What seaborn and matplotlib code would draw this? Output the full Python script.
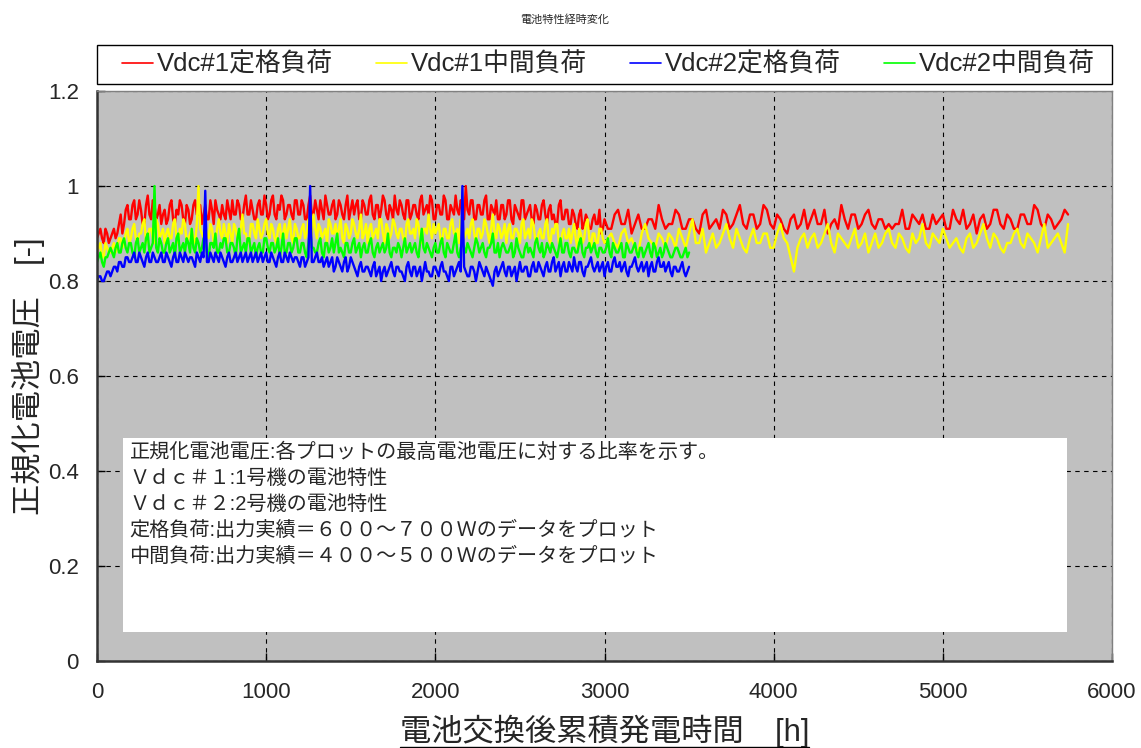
import numpy as np
import matplotlib
matplotlib.use("Agg")
import matplotlib.pyplot as plt
import seaborn as sns
from matplotlib.ticker import FuncFormatter
from matplotlib.patches import Rectangle
from matplotlib.lines import Line2D

# ---- sample times [h] ----
# main samples
hours_unit1 = np.concatenate([np.arange(0, 3000, 20),               # 150
                              np.append(np.arange(3000, 5721, 40), 5740)])  # 70
hours_unit2 = np.arange(0, 3501, 20)                                  # 176
# intermediate samples
hours_unit1_b = np.concatenate([np.arange(10, 3000, 20),             # 150
                                np.arange(3020, 5701, 40)])          # 68
hours_unit2_b = np.arange(10, 3500, 20)                              # 175

# ---- normalised cell voltage, unit 1, rated load (600-700 W) ----
vdc1_rated = [
    0.89, 0.91, 0.88, 0.90, 0.89, 0.91, 0.90, 0.94, 0.92, 0.96,
    0.93, 0.97, 0.94, 0.95, 0.92, 0.98, 0.93, 0.96, 0.94, 0.92,
    0.95, 0.93, 0.97, 0.92, 0.94, 0.96, 0.92, 0.95, 0.93, 0.97,
    0.94, 0.92, 0.96, 0.93, 0.95, 0.97, 0.94, 0.96, 0.93, 0.95,
    0.97, 0.94, 0.96, 0.93, 0.98, 0.94, 0.95, 0.93, 0.97, 0.94,
    0.96, 0.94, 0.98, 0.93, 0.95, 0.97, 0.94, 0.96, 0.93, 0.97,
    0.94, 0.96, 0.93, 0.98, 0.94, 0.95, 0.97, 0.93, 0.96, 0.94,
    0.97, 0.94, 0.96, 0.93, 0.98, 0.95, 0.94, 0.97, 0.93, 0.96,
    0.94, 0.98, 0.93, 0.96, 0.95, 0.97, 0.93, 0.95, 0.98, 0.94,
    0.96, 0.93, 0.97, 0.94, 0.96, 0.93, 0.98, 0.95, 0.94, 0.97,
    0.93, 0.96, 0.94, 0.97, 0.93, 0.95, 0.98, 0.94, 0.96, 1.00,
    0.94, 0.97, 0.93, 0.96, 0.94, 0.98, 0.93, 0.95, 0.97, 0.93,
    0.96, 0.94, 0.97, 0.92, 0.95, 0.93, 0.97, 0.94, 0.96, 0.92,
    0.95, 0.93, 0.97, 0.92, 0.96, 0.94, 0.92, 0.97, 0.93, 0.95,
    0.92, 0.94, 0.91, 0.95, 0.92, 0.93, 0.91, 0.94, 0.92, 0.90,
    0.93, 0.91, 0.95, 0.92, 0.90, 0.94, 0.91, 0.93, 0.96, 0.91,
    0.92, 0.94, 0.91, 0.93, 0.90, 0.95, 0.92, 0.91, 0.94, 0.92,
    0.96, 0.91, 0.94, 0.92, 0.95, 0.91, 0.93, 0.90, 0.94, 0.92,
    0.91, 0.95, 0.92, 0.90, 0.93, 0.96, 0.91, 0.94, 0.92, 0.95,
    0.91, 0.93, 0.92, 0.92, 0.95, 0.91, 0.93, 0.94, 0.91, 0.92,
    0.94, 0.91, 0.93, 0.95, 0.92, 0.90, 0.94, 0.92, 0.95, 0.91,
    0.93, 0.91, 0.94, 0.92, 0.95, 0.91, 0.93, 0.92, 0.95, 0.94,
]
vdc1_rated_b = [
    0.90, 0.89, 0.91, 0.88, 0.90, 0.89, 0.92, 0.90, 0.95, 0.93,
    0.96, 0.93, 0.97, 0.92, 0.96, 0.94, 0.97, 0.93, 0.96, 0.94,
    0.92, 0.96, 0.93, 0.95, 0.97, 0.93, 0.96, 0.92, 0.96, 0.94,
    0.96, 0.94, 0.93, 0.97, 0.92, 0.95, 0.93, 0.94, 0.97, 0.93,
    0.94, 0.97, 0.93, 0.96, 0.94, 0.97, 0.93, 0.96, 0.94, 0.98,
    0.93, 0.97, 0.94, 0.96, 0.98, 0.93, 0.96, 0.94, 0.97, 0.94,
    0.97, 0.93, 0.96, 0.94, 0.97, 0.93, 0.95, 0.98, 0.94, 0.96,
    0.93, 0.97, 0.94, 0.96, 0.93, 0.97, 0.96, 0.93, 0.97, 0.94,
    0.97, 0.94, 0.96, 0.93, 0.98, 0.94, 0.96, 0.93, 0.95, 0.97,
    0.94, 0.97, 0.93, 0.96, 0.94, 0.97, 0.94, 0.96, 0.98, 0.93,
    0.96, 0.94, 0.98, 0.93, 0.96, 0.94, 0.95, 0.97, 0.93, 0.95,
    0.97, 0.93, 0.96, 0.94, 0.97, 0.93, 0.96, 0.94, 0.93, 0.96,
    0.93, 0.97, 0.93, 0.96, 0.94, 0.97, 0.93, 0.95, 0.93, 0.96,
    0.93, 0.96, 0.94, 0.95, 0.93, 0.92, 0.96, 0.93, 0.95, 0.92,
    0.95, 0.92, 0.94, 0.91, 0.94, 0.91, 0.93, 0.92, 0.95, 0.91,
    0.91, 0.94, 0.92, 0.95, 0.92, 0.91, 0.93, 0.91, 0.93, 0.92,
    0.95, 0.91, 0.93, 0.91, 0.94, 0.91, 0.93, 0.95, 0.91, 0.94,
    0.92, 0.94, 0.91, 0.96, 0.92, 0.94, 0.91, 0.93, 0.91, 0.95,
    0.93, 0.92, 0.95, 0.92, 0.91, 0.93, 0.94, 0.91, 0.94, 0.92,
    0.93, 0.91, 0.91, 0.92, 0.91, 0.94, 0.92, 0.91, 0.94, 0.93,
    0.91, 0.95, 0.92, 0.91, 0.94, 0.93, 0.91, 0.95, 0.92, 0.94,
    0.91, 0.94, 0.92, 0.96, 0.92, 0.94, 0.91, 0.93,
]

# ---- unit 1, intermediate load (400-500 W) ----
vdc1_mid = [
    0.86, 0.88, 0.85, 0.87, 0.86, 0.88, 0.87, 0.89, 0.88, 0.91,
    0.89, 0.92, 0.88, 0.90, 0.93, 0.89, 0.91, 0.88, 0.92, 0.90,
    0.88, 0.91, 0.89, 0.93, 0.88, 0.90, 0.92, 0.89, 0.91, 0.88,
    1.00, 0.90, 0.92, 0.89, 0.91, 0.88, 0.93, 0.89, 0.90, 0.92,
    0.88, 0.91, 0.89, 0.94, 0.90, 0.88, 0.92, 0.89, 0.91, 0.90,
    0.93, 0.89, 0.91, 0.88, 0.92, 0.90, 0.89, 0.93, 0.88, 0.91,
    0.89, 0.92, 0.90, 0.88, 0.94, 0.89, 0.91, 0.90, 0.88, 0.92,
    0.90, 0.89, 0.93, 0.88, 0.91, 0.90, 0.92, 0.89, 0.94, 0.90,
    0.88, 0.92, 0.90, 0.89, 0.93, 0.88, 0.91, 0.90, 0.92, 0.89,
    0.91, 0.88, 0.93, 0.90, 0.89, 0.92, 0.88, 0.91, 0.94, 0.89,
    0.90, 0.92, 0.88, 0.91, 0.89, 0.93, 0.90, 0.88, 0.92, 0.90,
    0.89, 0.93, 0.88, 0.91, 0.90, 0.92, 0.88, 0.94, 0.89, 0.91,
    0.90, 0.88, 0.92, 0.89, 0.91, 0.88, 0.93, 0.90, 0.89, 0.92,
    0.88, 0.91, 0.89, 0.93, 0.88, 0.90, 0.92, 0.87, 0.91, 0.89,
    0.88, 0.92, 0.87, 0.90, 0.89, 0.93, 0.87, 0.90, 0.88, 0.91,
    0.88, 0.90, 0.87, 0.91, 0.89, 0.86, 0.92, 0.88, 0.90, 0.87,
    0.89, 0.91, 0.87, 0.93, 0.88, 0.86, 0.90, 0.88, 0.92, 0.87,
    0.89, 0.86, 0.91, 0.88, 0.90, 0.87, 0.92, 0.88, 0.82, 0.89,
    0.87, 0.90, 0.88, 0.92, 0.86, 0.89, 0.87, 0.91, 0.88, 0.86,
    0.90, 0.88, 0.91, 0.87, 0.89, 0.86, 0.88, 0.92, 0.87, 0.89,
    0.91, 0.87, 0.89, 0.86, 0.90, 0.88, 0.92, 0.87, 0.89, 0.86,
    0.88, 0.91, 0.87, 0.89, 0.86, 0.92, 0.88, 0.90, 0.86, 0.92,
]
vdc1_mid_b = [
    0.87, 0.85, 0.88, 0.86, 0.87, 0.86, 0.89, 0.87, 0.90, 0.88,
    0.91, 0.89, 0.90, 0.92, 0.88, 0.91, 0.89, 0.93, 0.89, 0.91,
    0.90, 0.89, 0.92, 0.89, 0.91, 0.93, 0.88, 0.90, 0.89, 0.92,
    0.91, 0.89, 0.90, 0.92, 0.88, 0.91, 0.90, 0.92, 0.88, 0.90,
    0.92, 0.89, 0.91, 0.90, 0.88, 0.92, 0.90, 0.93, 0.89, 0.92,
    0.90, 0.92, 0.89, 0.91, 0.89, 0.92, 0.91, 0.89, 0.92, 0.89,
    0.91, 0.89, 0.93, 0.90, 0.91, 0.92, 0.89, 0.91, 0.93, 0.90,
    0.92, 0.91, 0.89, 0.92, 0.89, 0.93, 0.90, 0.91, 0.89, 0.92,
    0.91, 0.89, 0.91, 0.93, 0.90, 0.92, 0.89, 0.93, 0.90, 0.91,
    0.89, 0.92, 0.90, 0.91, 0.93, 0.89, 0.91, 0.90, 0.91, 0.92,
    0.91, 0.89, 0.91, 0.89, 0.92, 0.90, 0.91, 0.93, 0.89, 0.91,
    0.92, 0.90, 0.91, 0.89, 0.93, 0.90, 0.91, 0.90, 0.92, 0.89,
    0.92, 0.91, 0.89, 0.91, 0.90, 0.92, 0.89, 0.91, 0.93, 0.89,
    0.90, 0.89, 0.92, 0.89, 0.91, 0.92, 0.88, 0.90, 0.89, 0.91,
    0.90, 0.89, 0.91, 0.88, 0.92, 0.89, 0.90, 0.88, 0.91, 0.89,
    0.89, 0.88, 0.90, 0.88, 0.87, 0.90, 0.89, 0.87, 0.89, 0.90,
    0.87, 0.89, 0.90, 0.88, 0.91, 0.88, 0.87, 0.90, 0.89, 0.91,
    0.87, 0.89, 0.88, 0.90, 0.87, 0.90, 0.89, 0.85, 0.87, 0.90,
    0.89, 0.87, 0.90, 0.88, 0.90, 0.88, 0.89, 0.87, 0.90, 0.88,
    0.87, 0.90, 0.88, 0.90, 0.87, 0.90, 0.89, 0.88, 0.90, 0.88,
    0.89, 0.88, 0.87, 0.89, 0.87, 0.90, 0.89, 0.90, 0.87, 0.88,
    0.90, 0.88, 0.90, 0.88, 0.89, 0.87, 0.89, 0.88,
]

# ---- unit 2, rated load ----
vdc2_rated = [
    0.80, 0.81, 0.80, 0.82, 0.81, 0.83, 0.82, 0.84, 0.83, 0.85,
    0.84, 0.86, 0.84, 0.85, 0.83, 0.86, 0.84, 0.85, 0.84, 0.86,
    0.84, 0.85, 0.83, 0.86, 0.84, 0.85, 0.86, 0.84, 0.85, 0.83,
    0.85, 0.86, 0.99, 0.84, 0.85, 0.86, 0.84, 0.85, 0.83, 0.86,
    0.84, 0.86, 0.85, 0.84, 0.86, 0.85, 0.84, 0.86, 0.85, 0.84,
    0.86, 0.84, 0.85, 0.83, 0.86, 0.84, 0.85, 0.86, 0.84, 0.85,
    0.83, 0.85, 0.84, 1.00, 0.84, 0.86, 0.84, 0.83, 0.85, 0.84,
    0.82, 0.85, 0.83, 0.84, 0.82, 0.85, 0.83, 0.81, 0.84, 0.82,
    0.83, 0.81, 0.84, 0.82, 0.80, 0.83, 0.82, 0.84, 0.81, 0.83,
    0.82, 0.80, 0.84, 0.81, 0.83, 0.82, 0.80, 0.84, 0.82, 0.81,
    0.83, 0.81, 0.84, 0.82, 0.80, 0.83, 0.82, 0.84, 1.00, 0.82,
    0.81, 0.83, 0.80, 0.84, 0.82, 0.83, 0.81, 0.79, 0.83, 0.82,
    0.84, 0.81, 0.83, 0.82, 0.80, 0.84, 0.82, 0.83, 0.81, 0.84,
    0.82, 0.83, 0.81, 0.84, 0.82, 0.85, 0.83, 0.81, 0.84, 0.82,
    0.83, 0.85, 0.82, 0.84, 0.81, 0.83, 0.85, 0.82, 0.84, 0.83,
    0.81, 0.84, 0.82, 0.85, 0.83, 0.82, 0.84, 0.81, 0.83, 0.85,
    0.82, 0.84, 0.83, 0.81, 0.84, 0.82, 0.85, 0.83, 0.82, 0.84,
    0.81, 0.83, 0.82, 0.84, 0.81, 0.83,
]
vdc2_rated_b = [
    0.81, 0.80, 0.81, 0.82, 0.82, 0.83, 0.84, 0.83, 0.85, 0.84,
    0.85, 0.84, 0.86, 0.84, 0.85, 0.84, 0.86, 0.84, 0.85, 0.84,
    0.86, 0.84, 0.85, 0.84, 0.86, 0.84, 0.85, 0.85, 0.84, 0.86,
    0.84, 0.85, 0.84, 0.86, 0.84, 0.85, 0.86, 0.84, 0.85, 0.84,
    0.85, 0.84, 0.86, 0.85, 0.84, 0.86, 0.85, 0.84, 0.86, 0.85,
    0.84, 0.86, 0.84, 0.85, 0.84, 0.86, 0.84, 0.85, 0.85, 0.84,
    0.85, 0.83, 0.85, 0.84, 0.85, 0.84, 0.85, 0.84, 0.83, 0.85,
    0.83, 0.84, 0.82, 0.85, 0.83, 0.84, 0.82, 0.83, 0.82, 0.83,
    0.82, 0.83, 0.81, 0.83, 0.82, 0.81, 0.83, 0.82, 0.83, 0.82,
    0.81, 0.83, 0.82, 0.83, 0.81, 0.83, 0.82, 0.82, 0.81, 0.83,
    0.82, 0.83, 0.82, 0.81, 0.83, 0.81, 0.83, 0.82, 0.83, 0.81,
    0.83, 0.82, 0.82, 0.83, 0.81, 0.82, 0.80, 0.82, 0.81, 0.83,
    0.82, 0.83, 0.81, 0.83, 0.82, 0.82, 0.83, 0.81, 0.83, 0.82,
    0.84, 0.82, 0.83, 0.82, 0.84, 0.82, 0.84, 0.83, 0.82, 0.84,
    0.82, 0.83, 0.84, 0.82, 0.83, 0.84, 0.83, 0.83, 0.82, 0.84,
    0.83, 0.82, 0.84, 0.83, 0.84, 0.83, 0.82, 0.83, 0.84, 0.83,
    0.83, 0.82, 0.84, 0.83, 0.82, 0.84, 0.83, 0.84, 0.83, 0.82,
    0.83, 0.82, 0.83, 0.82, 0.82,
]

# ---- unit 2, intermediate load ----
vdc2_mid = [
    0.84, 0.86, 0.83, 0.85, 0.87, 0.85, 0.88, 0.86, 0.89, 0.86,
    0.88, 0.85, 0.89, 0.87, 0.86, 0.90, 0.87, 1.00, 0.86, 0.88,
    0.86, 0.89, 0.87, 0.85, 0.90, 0.87, 0.86, 0.88, 0.91, 0.86,
    0.88, 0.87, 0.89, 0.85, 0.88, 0.90, 0.86, 0.87, 0.89, 0.86,
    0.88, 0.85, 0.91, 0.87, 0.86, 0.89, 0.87, 0.85, 0.88, 0.86,
    0.89, 0.86, 0.88, 0.87, 0.85, 0.90, 0.86, 0.88, 0.87, 0.89,
    0.86, 0.88, 0.85, 0.91, 0.87, 0.86, 0.89, 0.85, 0.88, 0.87,
    0.86, 0.90, 0.87, 0.85, 0.88, 0.86, 0.89, 0.87, 0.85, 0.88,
    0.86, 0.89, 0.85, 0.88, 0.87, 0.86, 0.90, 0.85, 0.87, 0.88,
    0.85, 0.89, 0.87, 0.86, 0.88, 0.85, 0.91, 0.86, 0.87, 0.85,
    0.88, 0.86, 0.89, 0.85, 0.87, 0.86, 0.90, 0.85, 0.88, 0.86,
    0.87, 0.85, 0.89, 0.86, 0.88, 0.85, 0.87, 0.90, 0.86, 0.85,
    0.88, 0.86, 0.87, 0.85, 0.89, 0.86, 0.85, 0.88, 0.87, 0.85,
    0.89, 0.86, 0.85, 0.88, 0.86, 0.87, 0.85, 0.89, 0.86, 0.88,
    0.85, 0.87, 0.86, 0.89, 0.85, 0.87, 0.86, 0.88, 0.85, 0.87,
    0.86, 0.89, 0.85, 0.87, 0.86, 0.88, 0.85, 0.87, 0.86, 0.88,
    0.85, 0.87, 0.86, 0.88, 0.85, 0.87, 0.86, 0.85, 0.88, 0.86,
    0.85, 0.87, 0.86, 0.85, 0.87, 0.86,
]
vdc2_mid_b = [
    0.85, 0.84, 0.85, 0.86, 0.86, 0.87, 0.86, 0.88, 0.87, 0.88,
    0.86, 0.88, 0.86, 0.88, 0.89, 0.86, 0.88, 0.87, 0.89, 0.86,
    0.88, 0.86, 0.88, 0.89, 0.86, 0.88, 0.89, 0.86, 0.87, 0.89,
    0.86, 0.89, 0.86, 0.88, 0.87, 0.86, 0.88, 0.89, 0.86, 0.88,
    0.87, 0.89, 0.86, 0.88, 0.89, 0.86, 0.88, 0.87, 0.86, 0.89,
    0.87, 0.88, 0.86, 0.89, 0.87, 0.86, 0.88, 0.86, 0.89, 0.86,
    0.88, 0.86, 0.88, 0.87, 0.86, 0.88, 0.86, 0.88, 0.86, 0.89,
    0.88, 0.86, 0.86, 0.88, 0.86, 0.88, 0.86, 0.88, 0.87, 0.86,
    0.88, 0.86, 0.87, 0.86, 0.88, 0.87, 0.86, 0.87, 0.86, 0.87,
    0.87, 0.86, 0.88, 0.87, 0.86, 0.88, 0.87, 0.88, 0.86, 0.87,
    0.86, 0.88, 0.86, 0.88, 0.86, 0.88, 0.86, 0.87, 0.87, 0.88,
    0.86, 0.87, 0.88, 0.87, 0.86, 0.87, 0.88, 0.86, 0.88, 0.87,
    0.87, 0.86, 0.88, 0.86, 0.87, 0.85, 0.87, 0.86, 0.86, 0.88,
    0.87, 0.88, 0.86, 0.87, 0.88, 0.86, 0.87, 0.86, 0.88, 0.86,
    0.87, 0.86, 0.88, 0.86, 0.87, 0.88, 0.87, 0.86, 0.87, 0.86,
    0.87, 0.86, 0.88, 0.86, 0.87, 0.85, 0.88, 0.86, 0.87, 0.86,
    0.87, 0.85, 0.87, 0.86, 0.88, 0.85, 0.87, 0.86, 0.87, 0.85,
    0.86, 0.87, 0.85, 0.86, 0.85,
]

series_labels = ["Vdc#1定格負荷", "Vdc#1中間負荷", "Vdc#2定格負荷", "Vdc#2中間負荷"]
series_colors = ["#FF0000", "#FFFF00", "#0000FF", "#00FF00"]

title_text = "電池特性経時変化"
x_label = "電池交換後累積発電時間　[h]"
y_label = "正規化電池電圧　[-]"
note_lines = [
    "正規化電池電圧:各プロットの最高電池電圧に対する比率を示す。",
    "Ｖｄｃ＃１:1号機の電池特性",
    "Ｖｄｃ＃２:2号機の電池特性",
    "定格負荷:出力実績＝６００～７００Ｗのデータをプロット",
    "中間負荷:出力実績＝４００～５００Ｗのデータをプロット",
]
x_ticks = [0, 1000, 2000, 3000, 4000, 5000, 6000]
y_ticks = [0, 0.2, 0.4, 0.6, 0.8, 1.0, 1.2]

# ---- style ----
sns.set_style("ticks")
FONTS = ["Liberation Sans", "Noto Sans CJK JP", "DejaVu Sans"]
plt.rcParams["font.family"] = FONTS
plt.rcParams["axes.unicode_minus"] = False

fig = plt.figure(figsize=(11.41, 7.48), dpi=100)
ax = fig.add_axes([0.085, 0.1163, 0.8896, 0.762])
ax.set_facecolor("#C0C0C0")

datasets = {
    series_labels[0]: (np.concatenate([hours_unit1, hours_unit1_b]),
                       np.concatenate([vdc1_rated, vdc1_rated_b])),
    series_labels[1]: (np.concatenate([hours_unit1, hours_unit1_b]),
                       np.concatenate([vdc1_mid, vdc1_mid_b])),
    series_labels[2]: (np.concatenate([hours_unit2, hours_unit2_b]),
                       np.concatenate([vdc2_rated, vdc2_rated_b])),
    series_labels[3]: (np.concatenate([hours_unit2, hours_unit2_b]),
                       np.concatenate([vdc2_mid, vdc2_mid_b])),
}

# draw order: unit 1 rated, unit 1 mid, unit 2 mid, unit 2 rated
handles = {}
for idx in [0, 1, 3, 2]:
    lab = series_labels[idx]
    xs, ys = datasets[lab]
    sns.lineplot(x=xs, y=ys, ax=ax, color=series_colors[idx], lw=1.7,
                 estimator=None, sort=True, legend=False)
    handles[lab] = Line2D([], [], color=series_colors[idx], lw=1.2)

ax.set_xlim(0, 6000)
ax.set_ylim(0, 1.2)
ax.set_xticks(x_ticks)
ax.set_yticks(y_ticks)
ax.yaxis.set_major_formatter(FuncFormatter(lambda v, p: f"{v:g}"))
ax.grid(True, color="black", linestyle=(0, (4, 4)), lw=0.8)
ax.tick_params(axis="both", direction="in", length=6, width=1,
               labelsize=16, color="black")
ax.tick_params(axis="y", pad=13)
ax.tick_params(axis="x", pad=15)

for side in ["left", "bottom"]:
    ax.spines[side].set_color("#333333")
    ax.spines[side].set_linewidth(1.8)
for side in ["top", "right"]:
    ax.spines[side].set_color("#808080")
    ax.spines[side].set_linewidth(1.0)

# explanatory note box
ax.add_patch(Rectangle((0.0256, 0.051), 0.930, 0.340, transform=ax.transAxes,
                       facecolor="white", edgecolor="none", zorder=3))
for i, line in enumerate(note_lines):
    ax.text(0.032, 0.366 - i * 0.0455, line, transform=ax.transAxes,
            fontsize=14.5, ha="left", va="center", zorder=4)

# axis labels
ax.set_xlabel(x_label, fontsize=22.5)
ax.xaxis.label.set_va("baseline")
ax.xaxis.set_label_coords(0.5, -0.1404)
ax.set_ylabel(y_label, fontsize=22.5)
ax.yaxis.label.set_va("center")
ax.yaxis.set_label_coords(-0.068, 0.5)

# legend above the plot area, framed by its own box
ax.add_patch(Rectangle((0, 1.0123), 1.0, 0.0684, transform=ax.transAxes,
                       facecolor="white", edgecolor="black", lw=1.0,
                       clip_on=False))
leg = ax.legend([handles[l] for l in series_labels], series_labels,
                loc="center", bbox_to_anchor=(0.0183, 1.0123, 0.9713, 0.0684),
                mode="expand", ncol=4, borderaxespad=0, fontsize=18.5,
                handlelength=1.2, handletextpad=0.15, frameon=False,
                borderpad=0.25)

fig.text(565 / 1141, 1 - 20 / 748, title_text, fontsize=8,
         ha="center", va="center")

# underline under the x axis label
fig.canvas.draw()
bb = ax.xaxis.label.get_window_extent(fig.canvas.get_renderer())
bb = bb.transformed(fig.transFigure.inverted())
y_ul = 1.5 / 748
fig.add_artist(Line2D([bb.x0, bb.x1], [y_ul, y_ul],
                      transform=fig.transFigure, color="black", lw=1.0))

fig.savefig("out.png", dpi=100, facecolor="white")
